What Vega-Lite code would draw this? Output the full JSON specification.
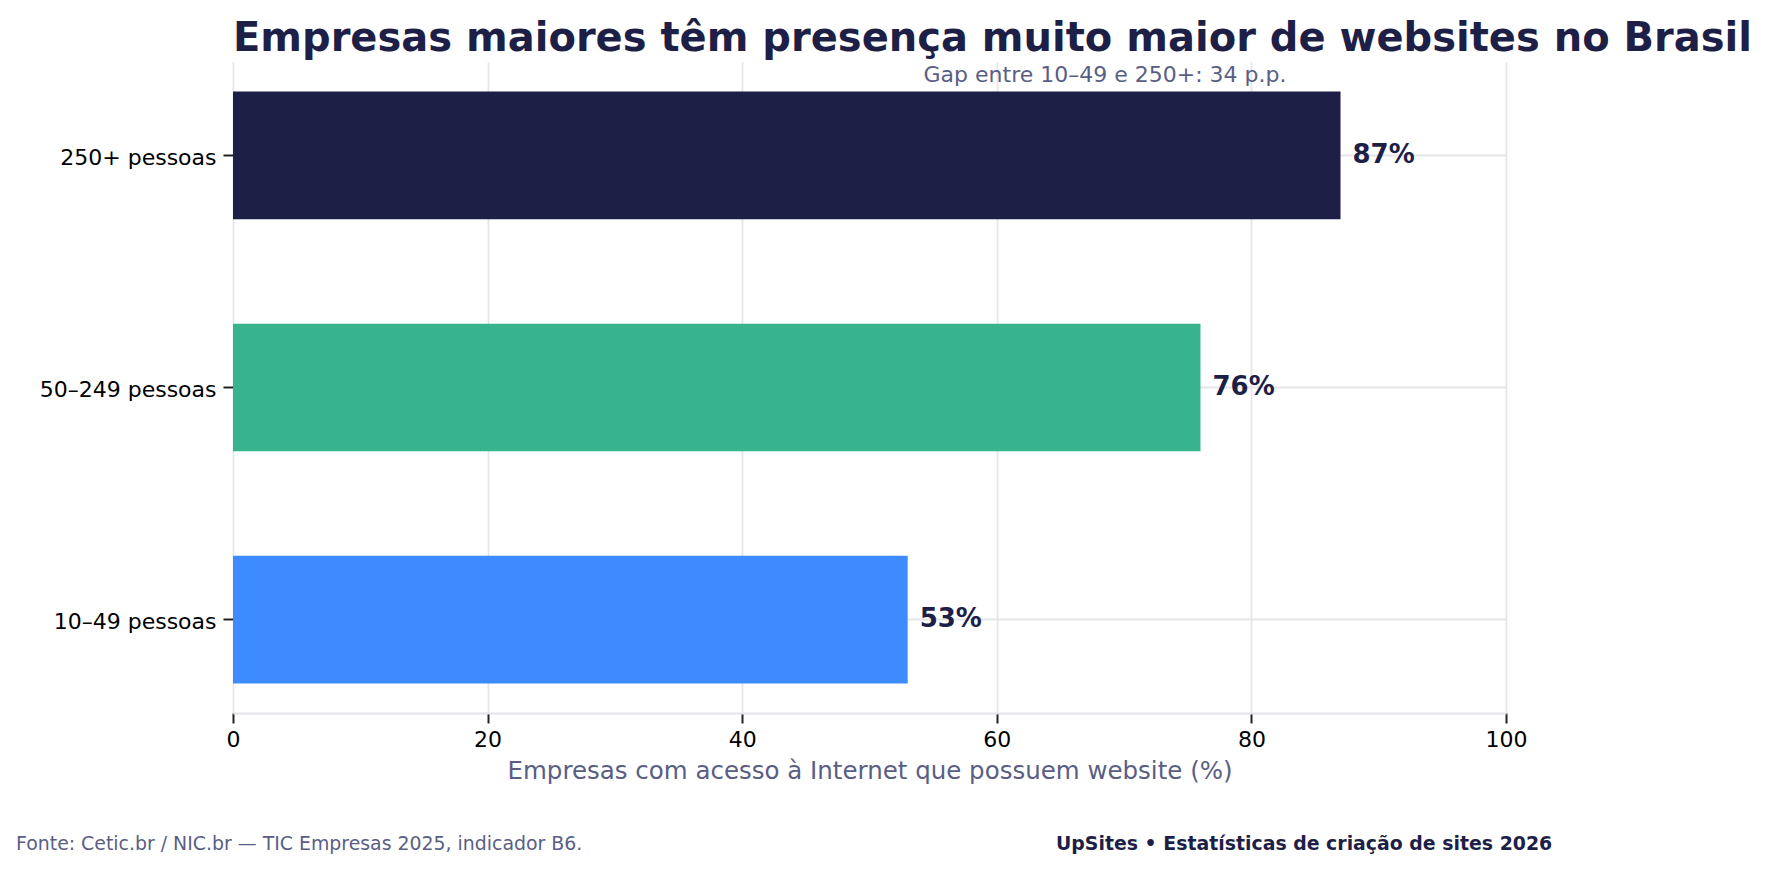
{
  "$schema": "https://vega.github.io/schema/vega-lite/v6.json",
  "background": "white",
  "padding": {"left": 16, "top": 18, "right": 0, "bottom": 0},
  "bounds": "flush",
  "spacing": 155.5,
  "config": {"font": "DejaVu Sans", "view": {"stroke": null}},
  "vconcat": [
    {
      "width": 1273,
      "height": 651,
      "title": {
        "text": "Empresas maiores têm presença muito maior de websites no Brasil",
        "anchor": "start",
        "frame": "group",
        "orient": "top",
        "baseline": "alphabetic",
        "offset": -28.5,
        "fontSize": 40,
        "fontWeight": "bold",
        "color": "#1e1f47"
      },
      "data": {
        "values": [
          {"porte": "250+ pessoas", "pct": 87, "rotulo": "87%"},
          {"porte": "50–249 pessoas", "pct": 76, "rotulo": "76%"},
          {"porte": "10–49 pessoas", "pct": 53, "rotulo": "53%"}
        ]
      },
      "encoding": {
        "y": {
          "field": "porte",
          "type": "nominal",
          "sort": ["250+ pessoas", "50–249 pessoas", "10–49 pessoas"],
          "scale": {"paddingInner": 0.45, "paddingOuter": 0.1275},
          "axis": {
            "title": null,
            "domain": false,
            "tickColor": "#222222",
            "tickSize": 10,
            "tickWidth": 2,
            "labelFontSize": 22,
            "labelColor": "#000000",
            "labelPadding": 7,
            "labelBaseline": "alphabetic",
            "labelOffset": 9.5,
            "grid": true,
            "gridColor": "#e6e6ea",
            "gridWidth": 1.8
          }
        }
      },
      "layer": [
        {
          "mark": {"type": "bar"},
          "encoding": {
            "x": {
              "field": "pct",
              "type": "quantitative",
              "scale": {"domain": [0, 100], "nice": false},
              "axis": {
                "title": "Empresas com acesso à Internet que possuem website (%)",
                "values": [0, 20, 40, 60, 80, 100],
                "format": "d",
                "labelFlush": false,
                "labelFontSize": 22,
                "labelColor": "#000000",
                "labelBaseline": "alphabetic",
                "labelPadding": 23,
                "tickSize": 10,
                "tickWidth": 2,
                "tickColor": "#222222",
                "domainColor": "#e3e3e8",
                "domainWidth": 2,
                "grid": true,
                "gridColor": "#e6e6ea",
                "gridWidth": 1.8,
                "titleFontSize": 24.5,
                "titleFontWeight": "normal",
                "titleColor": "#5a5e85",
                "titleBaseline": "alphabetic",
                "titlePadding": 28.5
              }
            },
            "color": {
              "field": "porte",
              "type": "nominal",
              "scale": {
                "domain": ["250+ pessoas", "50–249 pessoas", "10–49 pessoas"],
                "range": ["#1e1f47", "#37b48e", "#3d8bff"]
              },
              "legend": null
            }
          }
        },
        {
          "mark": {
            "type": "text",
            "align": "left",
            "baseline": "alphabetic",
            "dx": 12,
            "dy": 7.5,
            "fontSize": 26,
            "fontWeight": "bold",
            "color": "#1e1f47"
          },
          "encoding": {
            "x": {"field": "pct", "type": "quantitative"},
            "text": {"field": "rotulo"}
          }
        },
        {
          "data": {
            "values": [
              {"porte": "250+ pessoas", "nota": "Gap entre 10–49 e 250+: 34 p.p."}
            ]
          },
          "mark": {
            "type": "text",
            "align": "center",
            "baseline": "alphabetic",
            "dy": -73.4,
            "fontSize": 22,
            "color": "#5a5e85"
          },
          "encoding": {
            "x": {"datum": 68.5, "type": "quantitative"},
            "text": {"field": "nota"}
          }
        }
      ]
    },
    {
      "bounds": "flush",
      "spacing": 0,
      "hconcat": [
        {
          "width": 823,
          "height": 1,
          "data": {"values": []},
          "mark": "text",
          "title": {
            "text": "Fonte: Cetic.br / NIC.br — TIC Empresas 2025, indicador B6.",
            "anchor": "start",
            "frame": "group",
            "orient": "top",
            "baseline": "alphabetic",
            "offset": 0,
            "dx": -217,
            "fontSize": 18.9,
            "fontWeight": "normal",
            "color": "#5a5e85"
          }
        },
        {
          "width": 500,
          "height": 1,
          "data": {"values": []},
          "mark": "text",
          "title": {
            "text": "UpSites • Estatísticas de criação de sites 2026",
            "anchor": "start",
            "frame": "group",
            "orient": "top",
            "baseline": "alphabetic",
            "offset": 0,
            "fontSize": 18.9,
            "fontWeight": "bold",
            "color": "#1e1f47"
          }
        }
      ]
    }
  ]
}
